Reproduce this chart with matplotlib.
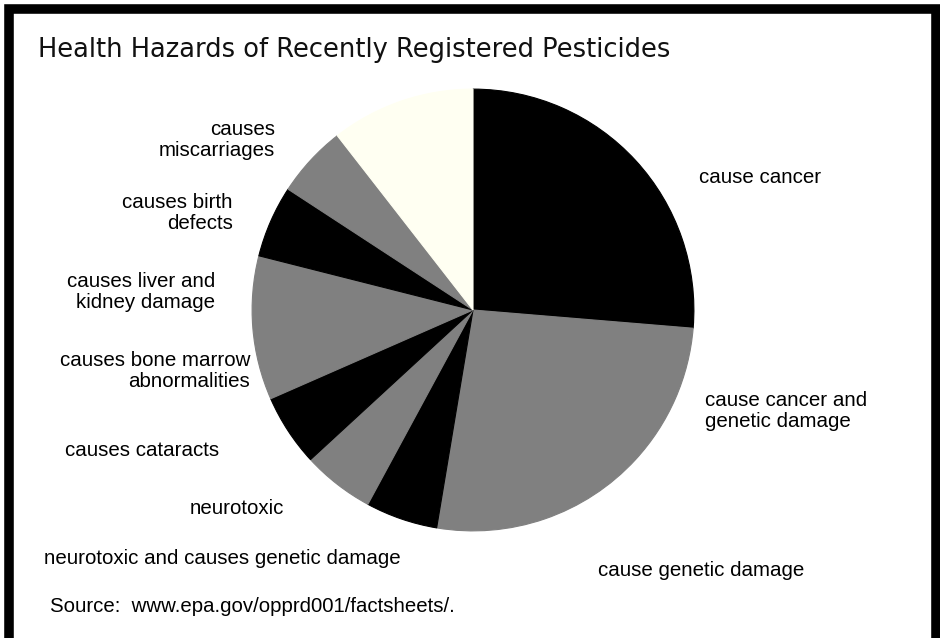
import matplotlib
matplotlib.use("Agg")
import matplotlib.pyplot as plt
from matplotlib.patches import Rectangle

# ── Data (counts of newly registered pesticides per hazard) ──────────
categories = [
    "cause cancer",
    "cause cancer and\ngenetic damage",
    "cause genetic damage",
    "neurotoxic and causes genetic damage",
    "neurotoxic",
    "causes cataracts",
    "causes bone marrow\nabnormalities",
    "causes liver and\nkidney damage",
    "causes birth\ndefects",
    "causes\nmiscarriages",
]
counts = [5, 2, 3, 1, 1, 1, 2, 1, 1, 2]

# ── Styling ──────────────────────────────────────────────────────────
W, H = 940, 638
BLACK, GRAY, CREAM = "#000000", "#808080", "#FFFFF2"
slice_colors = [BLACK, GRAY, GRAY, BLACK, GRAY, BLACK, GRAY, BLACK, GRAY, CREAM]

# label anchor (pixel x, pixel y of block centre, horizontal alignment)
label_pos = [
    (699, 177, "left"),
    (705, 411, "left"),
    (598, 570, "left"),
    (44, 558, "left"),
    (190, 508, "left"),
    (65, 451, "left"),
    (250, 371, "right"),
    (215, 292, "right"),
    (233, 213, "right"),
    (275, 140, "right"),
]

CX, CY, R = 473, 310, 222  # pie centre / radius in pixels


def px(x, y):
    return x / W, 1 - y / H


fig = plt.figure(figsize=(W / 100, H / 100), dpi=100)
fig.patch.set_facecolor("white")

# thick black frame (bottom edge runs off the canvas)
fig.patches.append(Rectangle(px(9, 660), (936 - 9) / W, (660 - 9) / H,
                             transform=fig.transFigure, fill=False,
                             edgecolor="black", linewidth=6.9))

ax = fig.add_axes([(CX - R) / W, (H - CY - R) / H, 2 * R / W, 2 * R / H])
wedges, _ = ax.pie(counts, colors=slice_colors, startangle=90,
                   counterclock=False, radius=1, wedgeprops=dict(linewidth=0.8))
for w in wedges:
    w.set_edgecolor(w.get_facecolor())
ax.set_xlim(-1.005, 1.005)
ax.set_ylim(-1.005, 1.005)
ax.set_aspect("equal")
ax.axis("off")

fig.text(*px(38, 57), "Health Hazards of Recently Registered Pesticides",
         fontsize=18.5, family="DejaVu Sans", va="baseline", ha="left",
         color="#111111")

for label, (x, y, ha) in zip(categories, label_pos):
    fig.text(*px(x, y), label, fontsize=14.8, family="Liberation Sans",
             ha=ha, va="center", multialignment=ha, linespacing=1.08)

fig.text(*px(50, 606), "Source:  www.epa.gov/opprd001/factsheets/.",
         fontsize=14.7, family="Liberation Sans", va="center", ha="left")

fig.savefig("out.png", dpi=100)
plt.close(fig)
